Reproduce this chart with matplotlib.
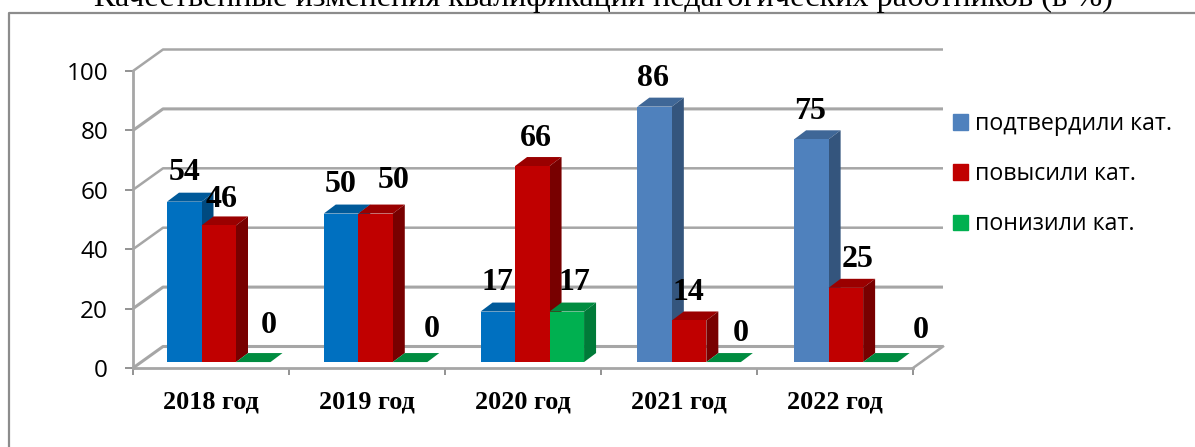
import matplotlib
matplotlib.use("Agg")
import matplotlib.pyplot as plt
from matplotlib.patches import Patch
from matplotlib.lines import Line2D

years = ["2018 год", "2019 год", "2020 год", "2021 год", "2022 год"]
series_names = ["подтвердили кат.", "повысили кат.", "понизили кат."]
confirmed = [54, 50, 17, 86, 75]
raised = [46, 50, 66, 14, 25]
lowered = [0, 0, 17, 0, 0]
y_ticks = [0, 20, 40, 60, 80, 100]

# label nudges in pixels from the top of each bar
confirmed_nudge = [(0, 29), (0, 29), (0, 29), (-2, 28), (-1, 28)]
raised_nudge = [(3, 26), (18, 33), (4, 28), (-1, 28), (12, 28)]
lowered_nudge = [(15, 37), (22, 33), (8, 29), (17, 29), (40, 32)]

W, H = 1195, 447
GRID = "#a6a6a6"
colors = [
    ["#0070c0", "#0070c0", "#0070c0", "#4f81bd", "#4f81bd"],
    ["#c00000"] * 5,
    ["#00b050"] * 5,
]
tops = [
    ["#005a9a", "#005a9a", "#005a9a", "#3f6797", "#3f6797"],
    ["#9a0000"] * 5,
    ["#008c40"] * 5,
]
sides = [
    ["#004a80", "#004a80", "#004a80", "#34557d", "#34557d"],
    ["#780000"] * 5,
    ["#007a38"] * 5,
]

fig = plt.figure(figsize=(W / 100, H / 100), dpi=100)
ax = fig.add_axes([133 / W, 1 - 368 / H, 780 / W, 297 / H])
ax.set_xlim(0, 5)
ax.set_ylim(0, 100)

# depth of the fake 3d box, data units
wall_dx, wall_dy = 30 / 156, 21.5 / 2.97
bar_dx, bar_dy = 12 / 156, 9 / 2.97
bar_w = 34.5 / 156
base = 2.0
first = 34 / 156
step = 1.005

for v in y_ticks:
    lw = 2.2 if v in (0, 20, 80) else 1.8
    ax.plot([0, wall_dx, 5 + wall_dx], [v, v + wall_dy, v + wall_dy], color=GRID, lw=lw,
            clip_on=False, zorder=1, solid_capstyle="butt")
ax.plot([5, 5 + wall_dx], [0, wall_dy], color=GRID, lw=1.8, clip_on=False, zorder=1)

for s, vals in enumerate([confirmed, raised, lowered]):
    nudges = [confirmed_nudge, raised_nudge, lowered_nudge][s]
    for i, v in enumerate(vals):
        x0 = i * step + first + s * bar_w
        x1 = x0 + bar_w
        z = 3 + s
        top = base + v
        ax.fill([x0, x0 + bar_dx, x1 + bar_dx, x1], [top, top + bar_dy, top + bar_dy, top],
                color=tops[s][i], lw=0, zorder=z, clip_on=False)
        ax.fill([x1, x1 + bar_dx, x1 + bar_dx, x1], [base, base + bar_dy, top + bar_dy, top],
                color=sides[s][i], lw=0, zorder=z, clip_on=False)
        if v > 0:
            ax.bar(x0, v, width=bar_w, bottom=base, align="edge", color=colors[s][i], zorder=z + 0.5)
        ax.annotate(str(v), (x0 + bar_w / 2, top), xytext=(nudges[i][0] * 0.72, nudges[i][1] * 0.72),
                    textcoords="offset points", ha="center", va="center",
                    family="Liberation Serif", fontweight="bold", fontsize=23, zorder=10)

for side in ["top", "right"]:
    ax.spines[side].set_visible(False)
for side in ["left", "bottom"]:
    ax.spines[side].set_color(GRID)
    ax.spines[side].set_linewidth(2.0)
    ax.spines[side].set_zorder(2)

ax.set_yticks(y_ticks)
ax.set_xticks(range(6))
ax.set_xticklabels([])
ax.set_xticks([i + 0.5 for i in range(5)], minor=True)
ax.set_xticklabels(years, minor=True, family="Liberation Serif", fontweight="bold", fontsize=18.8)
ax.tick_params(axis="x", which="minor", length=0, pad=16)
ax.tick_params(axis="x", which="major", length=5, width=1.2, color="#808080")
ax.tick_params(axis="y", length=6, width=1.2, color="#808080", pad=12, labelsize=17.5)
for t in ax.get_yticklabels():
    t.set_family("Open Sans")

handles = [Patch(color=colors[0][3]), Patch(color=colors[1][0]), Patch(color=colors[2][0])]
fig.legend(handles, series_names, loc="upper left", bbox_to_anchor=(953 / W, 1 - 112 / H),
           bbox_transform=fig.transFigure, frameon=False, borderpad=0, borderaxespad=0,
           handlelength=0.65, handleheight=0.65, handletextpad=0.3, labelspacing=1.13,
           prop={"family": "Open Sans", "size": 16.7})

# page elements around the chart
fig.add_artist(Line2D([8.5 / W, 8.5 / W, 1], [0, 1 - 13 / H, 1 - 13 / H], color="#8c8c8c", lw=1.6))
fig.text(603 / W, 1 - 6 / H, "Качественные изменения квалификации педагогических работников (в %)",
         ha="center", va="baseline", family="Liberation Serif", fontsize=23.2)

fig.savefig("out.png", dpi=100)
